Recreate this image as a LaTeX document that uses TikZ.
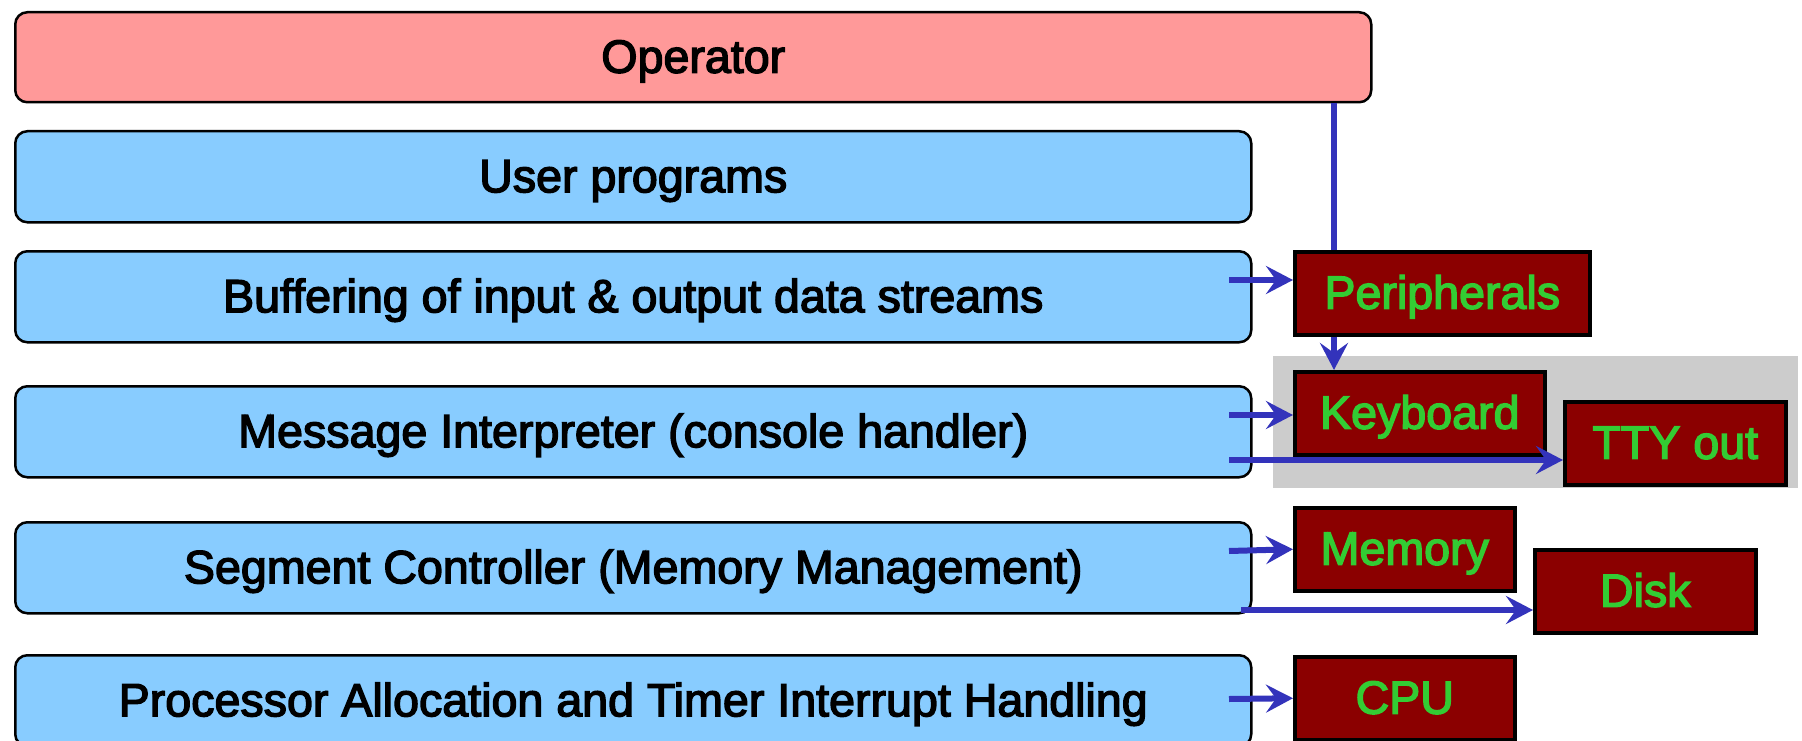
\documentclass[tikz,border=0pt]{standalone}
\usepackage{fontspec}
\setmainfont{Liberation Sans}
\newfontfamily\labelface{Liberation Sans}[FakeBold=3]
\usetikzlibrary{arrows.meta}
\definecolor{oppink}{RGB}{255,153,153}
\definecolor{layerblue}{RGB}{136,204,255}
\definecolor{devred}{RGB}{139,0,0}
\definecolor{devgreen}{RGB}{51,204,51}
\definecolor{linkblue}{RGB}{51,51,187}
\definecolor{groupgray}{RGB}{204,204,204}
\begin{document}
\begin{tikzpicture}[x=1pt,y=-1pt,
  labelfont/.style={font=\labelface\fontsize{46.6}{56}\selectfont, text height=31pt, text depth=0pt},
  layer/.style={draw=black, line width=2.5pt, rounded corners=12pt, fill=layerblue,
    labelfont, inner sep=0pt, anchor=north west, minimum width=1236pt, minimum height=91pt},
  device/.style={draw=black, line width=3.5pt, fill=devred, text=devgreen,
    labelfont, inner sep=0pt, anchor=north west, minimum height=83pt},
  link/.style={draw=linkblue, line width=6pt},
  linkarrow/.style={link, -{Stealth[length=27pt,width=28pt,inset=10pt]}}
]
\useasboundingbox (0,0) rectangle (1802,741);
\clip (0,0) rectangle (1802,741);

% grouping behind the console devices
\fill[groupgray] (1273,356) rectangle (1798,488);

% software layers
\node[layer, fill=oppink, minimum width=1356pt, minimum height=90pt] (op) at (14,11) {Operator};
\node[layer] (usr) at (14,130) {User programs};
\node[layer] (buf) at (14,250) {Buffering of input \& output data streams};
\node[layer] (msg) at (14,385) {Message Interpreter (console handler)};
\node[layer] (seg) at (14,521) {Segment Controller (Memory Management)};
\node[layer] (proc) at (14,654) {Processor Allocation and Timer Interrupt Handling};

% hardware devices
\node[device, minimum width=295pt] (per) at (1293,250) {Peripherals};
\node[device, minimum width=250pt] (kbd) at (1293,370) {Keyboard};
\node[device, minimum width=221pt] (tty) at (1563,400) {TTY out};
\node[device, minimum width=220pt] (mem) at (1293,506) {Memory};
\node[device, minimum width=221pt] (disk) at (1533,548) {Disk};
\node[device, minimum width=220pt] (cpu) at (1293,655) {CPU};

% connector start points
\coordinate (vx) at (1334,0);
\coordinate (sbuf) at (1229,280);
\coordinate (smsgk) at (1229,415);
\coordinate (smsgt) at (1229,460);
\coordinate (ssegm) at (1229,551);
\coordinate (ssegd) at (1241,610);
\coordinate (sproc) at (1229,699);

% connectors
\draw[link] (op.south -| vx) -- (per.north -| vx);
\draw[linkarrow] (per.south -| vx) -- (kbd.north -| vx);
\draw[linkarrow] (sbuf) -- (per.west |- sbuf);
\draw[linkarrow] (smsgk) -- (kbd.west |- smsgk);
\draw[linkarrow] (smsgt) -- (tty.west |- smsgt);
\draw[linkarrow] (ssegm) -- (mem.west);
\draw[linkarrow] (ssegd) -- (disk.west |- ssegd);
\draw[linkarrow] (sproc) -- (cpu.west);
\end{tikzpicture}
\end{document}
